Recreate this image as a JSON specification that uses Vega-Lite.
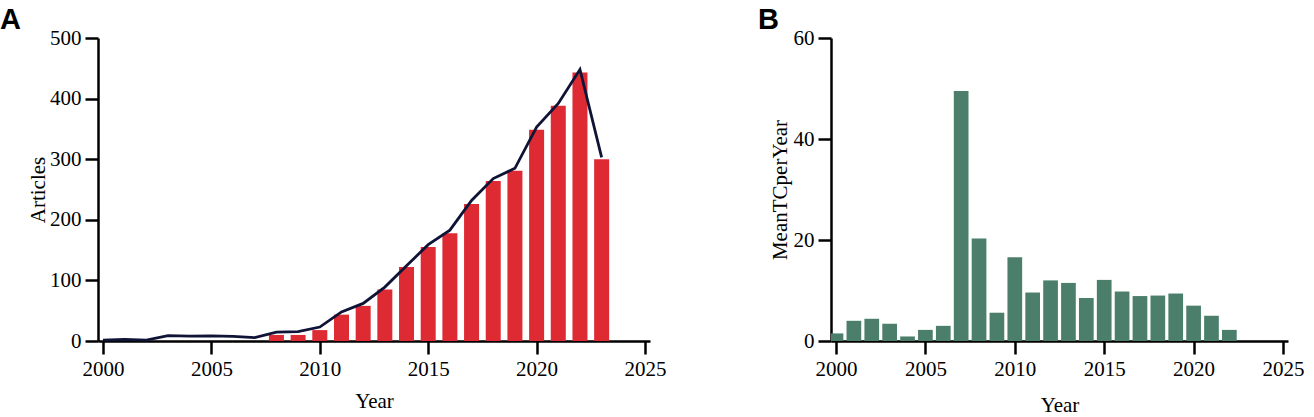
{
  "$schema": "https://vega.github.io/schema/vega-lite/v6.json",
  "padding": {"top": 6, "left": 0, "right": 0, "bottom": 0},
  "background": "white",
  "config": {
    "view": {"stroke": null},
    "font": "Liberation Serif",
    "axis": {
      "domainColor": "black",
      "domainWidth": 2.5,
      "tickColor": "black",
      "tickWidth": 2.5,
      "tickSize": 13,
      "labelFont": "Liberation Serif",
      "labelFontSize": 21,
      "labelColor": "black",
      "labelPadding": 4,
      "titleFont": "Liberation Serif",
      "titleFontSize": 21,
      "titleFontWeight": "normal",
      "titleColor": "black",
      "grid": false
    },
    "title": {"font": "Liberation Sans", "fontSize": 29, "fontWeight": "bold", "anchor": "start", "color": "black", "frame": "group", "offset": -8},
    "concat": {"spacing": 92}
  },
  "hconcat": [
    {
      "width": 552,
      "height": 303,
      "title": {"text": "A", "dx": -98},
      "data": {
        "values": [
          {"Year": 2000, "Articles": null, "Trend": 1.5},
          {"Year": 2001, "Articles": null, "Trend": 2.5},
          {"Year": 2002, "Articles": null, "Trend": 1.5},
          {"Year": 2003, "Articles": null, "Trend": 9},
          {"Year": 2004, "Articles": null, "Trend": 8},
          {"Year": 2005, "Articles": null, "Trend": 8.5},
          {"Year": 2006, "Articles": null, "Trend": 7.5},
          {"Year": 2007, "Articles": null, "Trend": 5.5},
          {"Year": 2008, "Articles": 10, "Trend": 14.5},
          {"Year": 2009, "Articles": 10, "Trend": 15.5},
          {"Year": 2010, "Articles": 18, "Trend": 23},
          {"Year": 2011, "Articles": 43.5, "Trend": 48},
          {"Year": 2012, "Articles": 58, "Trend": 62},
          {"Year": 2013, "Articles": 85, "Trend": 89},
          {"Year": 2014, "Articles": 122, "Trend": 124},
          {"Year": 2015, "Articles": 155, "Trend": 159},
          {"Year": 2016, "Articles": 178, "Trend": 183},
          {"Year": 2017, "Articles": 226, "Trend": 232},
          {"Year": 2018, "Articles": 264, "Trend": 268},
          {"Year": 2019, "Articles": 281, "Trend": 285},
          {"Year": 2020, "Articles": 348.5, "Trend": 353},
          {"Year": 2021, "Articles": 388, "Trend": 392},
          {"Year": 2022, "Articles": 443, "Trend": 448},
          {"Year": 2023, "Articles": 300, "Trend": 303}
        ]
      },
      "encoding": {
        "x": {
          "field": "Year",
          "type": "quantitative",
          "scale": {"domain": [2000, 2025], "nice": false, "zero": false},
          "axis": {"values": [2000, 2005, 2010, 2015, 2020, 2025], "format": "d", "title": "Year", "titlePadding": 11}
        }
      },
      "layer": [
        {
          "mark": {"type": "bar", "color": "#DE2A33", "size": 15},
          "encoding": {
            "y": {
              "field": "Articles",
              "type": "quantitative",
              "scale": {"domain": [0, 500], "nice": false},
              "axis": {"values": [0, 100, 200, 300, 400, 500], "title": "Articles", "titlePadding": 1}
            }
          }
        },
        {
          "mark": {"type": "line", "color": "#0F1437", "strokeWidth": 2.8},
          "encoding": {
            "y": {
              "field": "Trend",
              "type": "quantitative",
              "axis": {"values": [0, 100, 200, 300, 400, 500], "title": "Articles", "titlePadding": 1}
            }
          }
        }
      ]
    },
    {
      "width": 457,
      "height": 303,
      "title": {"text": "B", "dx": -73},
      "data": {
        "values": [
          {"Year": 2000, "MeanTCperYear": 1.5},
          {"Year": 2001, "MeanTCperYear": 4.0},
          {"Year": 2002, "MeanTCperYear": 4.4},
          {"Year": 2003, "MeanTCperYear": 3.4},
          {"Year": 2004, "MeanTCperYear": 0.9},
          {"Year": 2005, "MeanTCperYear": 2.2},
          {"Year": 2006, "MeanTCperYear": 3.0},
          {"Year": 2007, "MeanTCperYear": 49.5},
          {"Year": 2008, "MeanTCperYear": 20.3},
          {"Year": 2009, "MeanTCperYear": 5.6},
          {"Year": 2010, "MeanTCperYear": 16.6},
          {"Year": 2011, "MeanTCperYear": 9.6},
          {"Year": 2012, "MeanTCperYear": 12.0},
          {"Year": 2013, "MeanTCperYear": 11.5},
          {"Year": 2014, "MeanTCperYear": 8.5},
          {"Year": 2015, "MeanTCperYear": 12.1},
          {"Year": 2016, "MeanTCperYear": 9.8},
          {"Year": 2017, "MeanTCperYear": 8.9},
          {"Year": 2018, "MeanTCperYear": 9.0},
          {"Year": 2019, "MeanTCperYear": 9.4},
          {"Year": 2020, "MeanTCperYear": 7.0},
          {"Year": 2021, "MeanTCperYear": 5.0},
          {"Year": 2022, "MeanTCperYear": 2.2}
        ]
      },
      "mark": {"type": "bar", "color": "#4C7F6B", "size": 14.7, "clip": true},
      "encoding": {
        "x": {
          "field": "Year",
          "type": "quantitative",
          "scale": {"domain": [2000, 2025], "nice": false, "zero": false},
          "axis": {"values": [2000, 2005, 2010, 2015, 2020, 2025], "format": "d", "title": "Year", "titlePadding": 15}
        },
        "y": {
          "field": "MeanTCperYear",
          "type": "quantitative",
          "scale": {"domain": [0, 60], "nice": false},
          "axis": {"values": [0, 20, 40, 60], "title": "MeanTCperYear", "titlePadding": 3}
        }
      }
    }
  ]
}
